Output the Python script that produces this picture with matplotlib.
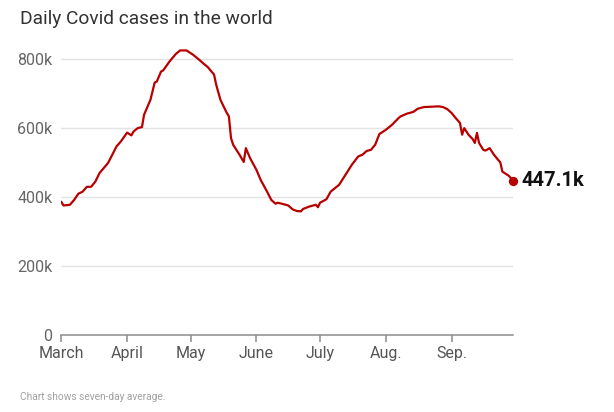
import matplotlib
matplotlib.use("Agg")
import matplotlib.pyplot as plt

# days since 2021-03-01 and seven-day average (thousands)
days = [0, 1, 4, 6, 8, 10, 12, 14, 16, 18, 22, 26, 28, 31, 33, 34, 36, 38,
        39, 42, 44, 45, 47, 48, 51, 54, 56, 58, 59, 62, 65, 67, 69, 72, 73,
        75, 78, 79, 80, 81, 84, 86, 87, 89, 92, 94, 97, 99, 101, 102, 104,
        107, 109, 111, 113, 114, 117, 120, 121, 122, 125, 127, 131, 134, 137,
        140, 142, 144, 146, 148, 150, 153, 156, 159, 160, 163, 166, 168, 171,
        178, 180, 182, 184, 186, 188, 189, 190, 192, 194, 195, 196, 197, 199,
        200, 202, 204, 206, 207, 208, 211, 213]
cases = [385, 375, 377, 391, 409, 415, 429, 429, 444, 469, 498, 546, 560, 586,
         578, 589, 599, 602, 638, 681, 731, 734, 763, 766, 792, 814, 824, 824,
         824, 812, 797, 786, 776, 754, 725, 681, 643, 633, 570, 551, 522, 501,
         541, 512, 478, 449, 415, 391, 380, 383, 380, 375, 364, 359, 358, 365,
         372, 377, 370, 383, 393, 415, 435, 464, 493, 517, 522, 533, 536, 551,
         582, 594, 609, 628, 633, 641, 646, 655, 660, 662, 660, 654, 643, 628,
         614, 580, 599, 580, 567, 556, 585, 556, 536, 534, 541, 522, 507, 500,
         473, 461, 447.1]

month_pos = [0, 31, 61, 92, 122, 153, 184]
month_labels = ["March", "April", "May", "June", "July", "Aug.", "Sep."]
y_ticks = [0, 200, 400, 600, 800]
y_labels = ["0", "200k", "400k", "600k", "800k"]

plt.rcParams['font.family'] = ['Roboto', 'DejaVu Sans']

fig = plt.figure(figsize=(6.14, 4.12), dpi=100)
ax = fig.add_axes([0.100, 0.187, 0.7355, 0.704])

red = "#b80000"
ax.plot(days, cases, color=red, lw=1.6, solid_joinstyle="round", zorder=3)
ax.scatter([days[-1]], [cases[-1]], s=32, color=red, zorder=4, clip_on=False)
ax.annotate(f"{cases[-1]}k", (days[-1], cases[-1]), xytext=(6, 0),
            textcoords="offset points", va="center", ha="left",
            fontsize=14.5, fontweight="bold", color="#111111",
            annotation_clip=False)

ax.set_xlim(0, days[-1])
ax.set_ylim(0, 840)

for t in y_ticks[1:]:
    ax.axhline(t, color="#e3e3e3", lw=1, zorder=1)

for s in ["top", "right", "left"]:
    ax.spines[s].set_visible(False)
ax.spines["bottom"].set_color("#8c8c8c")
ax.spines["bottom"].set_linewidth(1.1)

ax.set_yticks(y_ticks)
ax.set_yticklabels(y_labels)
ax.tick_params(axis="y", length=0, pad=6.5, labelsize=11.5, labelcolor="#666666")
ax.set_xticks(month_pos)
ax.set_xticklabels(month_labels)
ax.tick_params(axis="x", length=5, width=1.1, color="#8c8c8c", pad=3,
               labelsize=11.5, labelcolor="#555555")

fig.text(0.033, 0.955, "Daily Covid cases in the world", fontsize=13.8,
         color="#333333", ha="left", va="center")
fig.text(0.033, 0.036, "Chart shows seven-day average.", fontsize=7.3,
         color="#a0a0a0", ha="left", va="center")

fig.savefig("out.png", dpi=100)
